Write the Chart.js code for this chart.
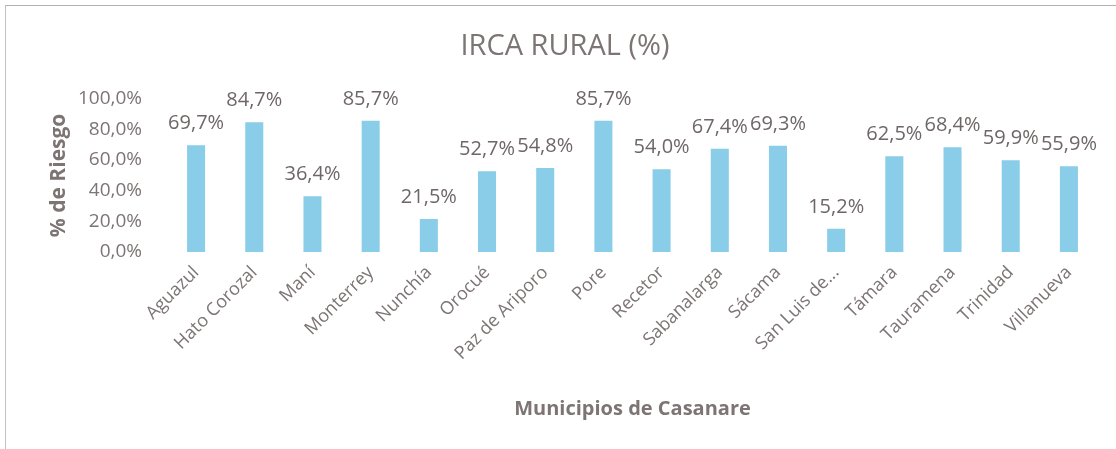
<!DOCTYPE html>
<html>
<head>
<meta charset="utf-8">
<script src="https://cdn.jsdelivr.net/npm/chart.js@4/dist/chart.umd.min.js"></script>
<style>
  html, body { margin: 0; padding: 0; background: #fff; }
  #wrap { position: relative; width: 1116px; height: 449px; }
  #frame { position: absolute; left: 5px; top: 5px; right: 0; bottom: 0;
           border-top: 1px solid #b5b0b0; border-left: 1px solid #c5c0c0; pointer-events: none; }
</style>
</head>
<body>
<div id="wrap">
  <canvas id="c" width="1116" height="449"></canvas>
  <div id="frame"></div>
</div>
<script>
const chartTitle = "IRCA RURAL (%)";
const yAxisTitle = "% de Riesgo";
const xAxisTitle = "Municipios de Casanare";
const categories = ["Aguazul", "Hato Corozal", "Maní", "Monterrey", "Nunchía", "Orocué",
  "Paz de Ariporo", "Pore", "Recetor", "Sabanalarga", "Sácama", "San Luis de...",
  "Támara", "Tauramena", "Trinidad", "Villanueva"];
const irca = [69.7, 84.7, 36.4, 85.7, 21.5, 52.7, 54.8, 85.7, 54.0, 67.4, 69.3, 15.2,
  62.5, 68.4, 59.9, 55.9];
const yTicks = [0, 20, 40, 60, 80, 100];

const FONT = "'Open Sans', sans-serif";
const TEXT = "#7d7474";
const fmt = v => v.toFixed(1).replace('.', ',') + '%';

const labelPlugin = {
  id: 'barLabels',
  afterDatasetsDraw(chart) {
    const ctx = chart.ctx;
    const meta = chart.getDatasetMeta(0);
    ctx.save();
    ctx.font = "20px " + FONT;
    ctx.fillStyle = "#6f6767";
    ctx.textAlign = 'center';
    ctx.textBaseline = 'alphabetic';
    meta.data.forEach((bar, i) => {
      ctx.fillText(fmt(irca[i]), bar.x, bar.y - 16);
    });
    ctx.restore();
  }
};

new Chart(document.getElementById('c'), {
  type: 'bar',
  data: {
    labels: categories,
    datasets: [{
      data: irca,
      backgroundColor: '#89cde9',
      borderWidth: 0,
      categoryPercentage: 1,
      barPercentage: 0.31
    }]
  },
  options: {
    responsive: false,
    animation: false,
    layout: { padding: { left: 32, right: 18, top: 0, bottom: 0 } },
    plugins: {
      legend: { display: false },
      tooltip: { enabled: false },
      title: {
        display: true,
        text: chartTitle,
        color: TEXT,
        font: { family: FONT, size: 29, weight: 'normal' },
        padding: { top: 29, bottom: 35 }
      }
    },
    scales: {
      x: {
        grid: { display: false, drawTicks: false },
        border: { display: false },
        ticks: {
          color: TEXT,
          font: { family: FONT, size: 18 },
          maxRotation: 45, minRotation: 45,
          autoSkip: false,
          padding: 10
        },
        title: {
          display: true,
          text: xAxisTitle,
          color: TEXT,
          font: { family: FONT, size: 20, weight: 'bold' },
          padding: { top: 0, bottom: 28 }
        },
        afterFit(scale) { scale.height = 197; }
      },
      y: {
        min: 0, max: 100,
        grid: { display: false, drawTicks: false },
        border: { display: false },
        afterBuildTicks(scale) { scale.ticks = yTicks.map(v => ({ value: v })); },
        ticks: {
          color: TEXT,
          font: { family: FONT, size: 19 },
          padding: 25,
          callback: v => fmt(v)
        },
        title: {
          display: true,
          text: yAxisTitle,
          color: TEXT,
          font: { family: FONT, size: 21, weight: 'bold' },
          padding: { top: 14, bottom: 0 }
        },
        afterFit(scale) { scale.width = 135; }
      }
    }
  },
  plugins: [labelPlugin]
});
</script>
</body>
</html>
